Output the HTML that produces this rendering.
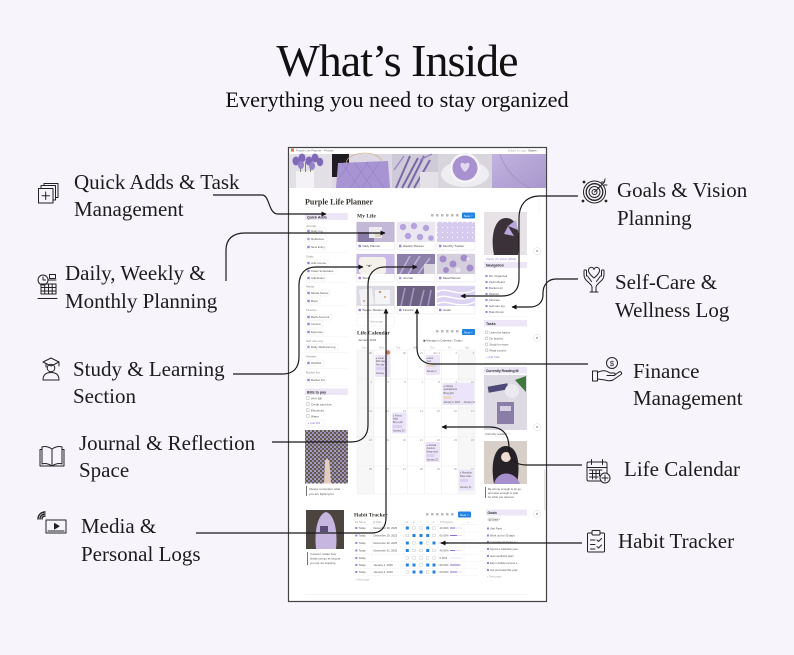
<!DOCTYPE html>
<html><head><meta charset="utf-8">
<style>
html,body{margin:0;padding:0;background:#f7f4fc;width:794px;height:655px;overflow:hidden;}
svg{display:block}
.sf{font-family:"Liberation Serif",serif;}
.ss{font-family:"Liberation Sans",sans-serif;}
</style></head><body>
<svg width="794" height="655" viewBox="0 0 794 655" xmlns="http://www.w3.org/2000/svg">
<defs>
<marker id="ar" viewBox="0 0 10 10" refX="9" refY="5" markerWidth="4.2" markerHeight="4.2" orient="auto"><path d="M0,0 L10,5 L0,10 z" fill="#111"/></marker>
<pattern id="fl" width="4" height="4" patternUnits="userSpaceOnUse"><rect width="4" height="4" fill="#5f5c4c"/><circle cx="1" cy="1" r="1.05" fill="#a993d6"/><circle cx="3" cy="3" r="0.95" fill="#c4b4e8"/></pattern>
<pattern id="dt" width="5" height="5" patternUnits="userSpaceOnUse"><rect width="5" height="5" fill="#d6caef"/><circle cx="2.5" cy="2.5" r="0.6" fill="#fff"/></pattern>
<linearGradient id="sw" x1="0" y1="0" x2="1" y2="1"><stop offset="0" stop-color="#c2b3e0"/><stop offset="1" stop-color="#a897cc"/></linearGradient>
</defs>
<rect width="794" height="655" fill="#f7f4fc"/>

<!-- Titles -->
<text class="sf" x="397" y="76" font-size="46" text-anchor="middle" letter-spacing="-1" fill="#111">What’s Inside</text>
<text class="sf" x="397" y="107" font-size="22.3" text-anchor="middle" fill="#111">Everything you need to stay organized</text>

<!-- Screenshot frame -->
<rect x="288.5" y="147.5" width="258" height="454" fill="#ffffff" stroke="#444" stroke-width="1.2"/>

<!-- top bar -->
<g class="ss">
<rect x="291" y="148.6" width="3" height="3" fill="#d9773c"/>
<text x="296" y="151.6" font-size="3" fill="#777">Purple Life Planner  ·  Private</text>
<text x="508" y="151.6" font-size="2.8" fill="#aaa">Edited 1m ago</text>
<text x="528" y="151.6" font-size="3" fill="#555">Share</text>
<text x="536" y="151.6" font-size="3" fill="#777">☆ ···</text>
</g>

<!-- cover photos -->
<rect x="289" y="154" width="43" height="34" fill="#e2dfe6"/>
<rect x="296" y="171" width="18" height="17" fill="#f4f2f5"/>
<g fill="#5f7a4e"><rect x="300" y="163" width="0.8" height="9"/><rect x="305" y="162" width="0.8" height="10"/><rect x="310" y="163" width="0.8" height="9"/></g>
<g fill="#7f69b8"><ellipse cx="296" cy="161" rx="3.5" ry="4.5"/><ellipse cx="302" cy="158" rx="3.5" ry="4.5"/><ellipse cx="309" cy="161" rx="3.5" ry="4.5"/><ellipse cx="315" cy="158" rx="3.5" ry="4.5"/><ellipse cx="320" cy="162" rx="3.2" ry="4.2"/><ellipse cx="301" cy="165" rx="3" ry="4" fill="#9683c9"/><ellipse cx="312" cy="166" rx="3" ry="4" fill="#9683c9"/></g>

<rect x="332" y="154" width="60" height="34" fill="#ddd8e4"/>
<rect x="332" y="154" width="17" height="23" fill="#1e1b21"/>
<path d="M338,163 L388,161 L390,188 L336,188 Z" fill="#a894d2"/>
<g stroke="#9280c2" stroke-width="0.6"><path d="M342,163 L360,188 M354,162.5 L372,188 M366,162 L384,188 M350,188 L368,162 M362,188 L380,161.5 M338,180 L350,162.6"/></g>
<path d="M346,163 C348,150 380,150 382,162" fill="none" stroke="#c9b68c" stroke-width="0.8"/>

<rect x="392" y="154" width="46" height="34" fill="#cfcad8"/>
<g stroke="#7a67a6" stroke-width="2"><path d="M396,188 L410,156 M402,188 L418,158 M408,188 L424,156 M414,188 L430,160"/></g>
<rect x="420" y="172" width="18" height="16" fill="#e4e1e8"/>
<g stroke="#9b89c4" stroke-width="1.4"><path d="M394,170 L404,156 M420,160 L432,154"/></g>

<rect x="438" y="154" width="54" height="34" fill="#d8d5dd"/>
<ellipse cx="465" cy="174" rx="24" ry="13" fill="#eeedf1"/>
<circle cx="465" cy="168" r="15" fill="#f5f4f7"/>
<circle cx="465" cy="168" r="12.5" fill="#a792cf"/>
<path d="M465,172 C458,166 460,160 465,164 C470,160 472,166 465,172 Z" fill="#e2d8f0"/>

<rect x="492" y="154" width="54" height="34" fill="url(#sw)"/>
<path d="M500,154 C505,170 515,180 530,188" fill="none" stroke="#a493c8" stroke-width="1"/>

<!-- page title -->
<text class="sf" x="305" y="204.5" font-size="8" font-weight="bold" fill="#37352f">Purple Life Planner</text>

<!-- left column -->
<g class="ss" font-size="3" fill="#555">
<rect x="305" y="213" width="43" height="7" fill="#ece6f6"/>
<text x="307" y="218.3" font-size="3.6" font-weight="bold" fill="#333">Quick Adds</text>

<text x="306" y="227" fill="#888">Journal</text>
<g><rect x="306" y="228" width="20" height="6" rx="1" fill="#fff" stroke="#e3e3e3" stroke-width="0.4"/><rect x="307.3" y="229.8" width="2.4" height="2.4" fill="#9b7fd0"/><text x="311" y="232.2">Daily log</text></g>
<g><rect x="306" y="236" width="21" height="6" rx="1" fill="#fff" stroke="#e3e3e3" stroke-width="0.4"/><rect x="307.3" y="237.8" width="2.4" height="2.4" fill="#b79be0"/><text x="311" y="240.2">Reflection</text></g>
<g><rect x="306" y="244" width="20" height="6" rx="1" fill="#fff" stroke="#e3e3e3" stroke-width="0.4"/><rect x="307.3" y="245.8" width="2.4" height="2.4" fill="#9b7fd0"/><text x="311" y="248.2">New Entry</text></g>
<rect x="305" y="252" width="43" height="0.4" fill="#eee"/>

<text x="306" y="257.5" fill="#888">Study</text>
<g><rect x="306" y="260" width="22" height="6" rx="1" fill="#fff" stroke="#e3e3e3" stroke-width="0.4"/><rect x="307.3" y="261.8" width="2.4" height="2.4" fill="#9b7fd0"/><text x="311" y="264.2">Add course</text></g>
<g><rect x="306" y="268" width="30" height="6" rx="1" fill="#fff" stroke="#e3e3e3" stroke-width="0.4"/><rect x="307.3" y="269.8" width="2.4" height="2.4" fill="#9b7fd0"/><text x="311" y="272.2">Class Schedules</text></g>
<g><rect x="306" y="275" width="20" height="6" rx="1" fill="#fff" stroke="#e3e3e3" stroke-width="0.4"/><rect x="307.3" y="276.8" width="2.4" height="2.4" fill="#9b7fd0"/><text x="311" y="279.2">Add Exam</text></g>
<rect x="305" y="282.5" width="43" height="0.4" fill="#eee"/>

<text x="306" y="287.5" fill="#888">Media</text>
<g><rect x="306" y="290" width="24" height="6" rx="1" fill="#fff" stroke="#e3e3e3" stroke-width="0.4"/><rect x="307.3" y="291.8" width="2.4" height="2.4" fill="#9b7fd0"/><text x="311" y="294.2">Media Series</text></g>
<g><rect x="306" y="298" width="14" height="6" rx="1" fill="#fff" stroke="#e3e3e3" stroke-width="0.4"/><rect x="307.3" y="299.8" width="2.4" height="2.4" fill="#9b7fd0"/><text x="311" y="302.2">Book</text></g>
<rect x="305" y="305.5" width="43" height="0.4" fill="#eee"/>

<text x="306" y="310.8" fill="#888">Finance</text>
<g><rect x="306" y="314" width="26" height="6" rx="1" fill="#fff" stroke="#e3e3e3" stroke-width="0.4"/><rect x="307.3" y="315.8" width="2.4" height="2.4" fill="#9b7fd0"/><text x="311" y="318.2">Bank Account</text></g>
<g><rect x="306" y="321" width="17" height="6" rx="1" fill="#fff" stroke="#e3e3e3" stroke-width="0.4"/><rect x="307.3" y="322.8" width="2.4" height="2.4" fill="#9b7fd0"/><text x="311" y="325.2">Income</text></g>
<g><rect x="306" y="329" width="18" height="6" rx="1" fill="#fff" stroke="#e3e3e3" stroke-width="0.4"/><rect x="307.3" y="330.8" width="2.4" height="2.4" fill="#9b7fd0"/><text x="311" y="333.2">Expense</text></g>
<rect x="305" y="336.5" width="43" height="0.4" fill="#eee"/>

<text x="306" y="341.8" fill="#888">Self care log</text>
<g><rect x="306" y="344" width="32" height="6" rx="1" fill="#fff" stroke="#e3e3e3" stroke-width="0.4"/><rect x="307.3" y="345.8" width="2.4" height="2.4" fill="#b79be0"/><text x="311" y="348.2">Daily Wellness log</text></g>
<rect x="305" y="352" width="43" height="0.4" fill="#eee"/>

<text x="306" y="357.5" fill="#888">Wishlist</text>
<g><rect x="306" y="360" width="18" height="6" rx="1" fill="#fff" stroke="#e3e3e3" stroke-width="0.4"/><rect x="307.3" y="361.8" width="2.4" height="2.4" fill="#9b7fd0"/><text x="311" y="364.2">Wishlist</text></g>
<rect x="305" y="368" width="43" height="0.4" fill="#eee"/>

<text x="306" y="373.5" fill="#888">Bucket list</text>
<g><rect x="306" y="377" width="20" height="6" rx="1" fill="#fff" stroke="#e3e3e3" stroke-width="0.4"/><rect x="307.3" y="378.8" width="2.4" height="2.4" fill="#9b7fd0"/><text x="311" y="381.2">Bucket list</text></g>
<rect x="305" y="385.5" width="43" height="0.4" fill="#eee"/>

<rect x="305" y="388.5" width="43" height="6.5" fill="#ece6f6"/>
<text x="307" y="393.5" font-size="3.6" font-weight="bold" fill="#333">Bills to pay</text>
<g fill="none" stroke="#999" stroke-width="0.4"><rect x="306.5" y="396.8" width="2.6" height="2.6"/><rect x="306.5" y="402.8" width="2.6" height="2.6"/><rect x="306.5" y="408.8" width="2.6" height="2.6"/><rect x="306.5" y="414.8" width="2.6" height="2.6"/></g>
<text x="311" y="399.3">Wi-fi Bill</text>
<text x="311" y="405.3">Credit card due</text>
<text x="311" y="411.3">Electricity</text>
<text x="311" y="417.3">Water</text>
<rect x="306" y="420" width="18" height="6" rx="1" fill="#fff" stroke="#e3e3e3" stroke-width="0.4"/>
<text x="307.5" y="424.2" fill="#9b7fd0">+  Add Bill</text>
<rect x="305" y="427.5" width="43" height="0.4" fill="#eee"/>
</g>
<rect x="305" y="430" width="43" height="53.5" fill="url(#fl)"/>
<path d="M324,483.5 L325,462 C325,458 329,458 329.5,462 L331,483.5 Z" fill="#e3cbbd"/>
<rect x="306" y="486" width="0.8" height="10" fill="#555"/>
<g class="ss" font-size="3" fill="#555"><text x="309" y="490">Always remember what</text><text x="309" y="495">you are fighting for.</text></g>

<!-- My Life -->
<text class="sf" x="357" y="217.5" font-size="5.5" font-weight="bold" fill="#37352f">My Life</text>
<g fill="#bbb"><rect x="431" y="214" width="2.5" height="2.5"/><rect x="436" y="214" width="2.5" height="2.5"/><rect x="441" y="214" width="2.5" height="2.5"/><rect x="446" y="214" width="2.5" height="2.5"/><rect x="451" y="214" width="2.5" height="2.5"/><rect x="456" y="214" width="2.5" height="2.5"/></g>
<rect x="462" y="212.5" width="13" height="6" rx="1" fill="#2383e2"/>
<text class="ss" x="464" y="216.8" font-size="3" fill="#fff">New  ˅</text>

<!-- cards -->
<g stroke="#e3e3e3" stroke-width="0.5" fill="#fff">
<rect x="356.5" y="222" width="38" height="28" rx="1"/><rect x="397" y="222" width="38" height="28" rx="1"/><rect x="437" y="222" width="38" height="28" rx="1"/>
<rect x="356.5" y="254" width="38" height="28" rx="1"/><rect x="397" y="254" width="38" height="28" rx="1"/><rect x="437" y="254" width="38" height="28" rx="1"/>
<rect x="356.5" y="286" width="38" height="28" rx="1"/><rect x="397" y="286" width="38" height="28" rx="1"/><rect x="437" y="286" width="38" height="28" rx="1"/>
</g>
<!-- r1 -->
<rect x="356.5" y="222" width="38" height="20" fill="#c3b8d6"/>
<rect x="358" y="232" width="16" height="10" fill="#8a7ba6"/>
<rect x="369" y="227" width="13" height="11" fill="#ecebef"/>
<rect x="375" y="233" width="6" height="4" fill="#e2d6c0"/>
<rect x="397" y="222" width="38" height="20" fill="#ebe7f0"/>
<g fill="#b7a2e0"><circle cx="403" cy="227" r="3.2"/><circle cx="414" cy="226" r="3.2"/><circle cx="426" cy="228" r="3.2"/><circle cx="408" cy="236" r="3.2"/><circle cx="420" cy="237" r="3.2"/><circle cx="431" cy="238" r="2.8"/></g>
<rect x="437" y="222" width="38" height="20" fill="url(#dt)"/>
<!-- r2 -->
<rect x="356.5" y="254" width="38" height="20" fill="#c9b9e6"/>
<rect x="359" y="257" width="27" height="17" rx="3" fill="#f4f1ea"/>
<text class="ss" x="366" y="267" font-size="4" fill="#333">^ᴥ^</text>
<rect x="397" y="254" width="38" height="20" fill="#8d80a8"/>
<g stroke="#c0b2dc" stroke-width="1.5"><path d="M400,274 L410,256 M408,274 L420,256 M418,274 L430,258"/></g>
<rect x="424" y="264" width="11" height="10" fill="#d9d5df"/>
<rect x="437" y="254" width="38" height="20" fill="#d4cedd"/>
<g fill="#a48ccc"><circle cx="443" cy="259" r="3.5"/><circle cx="453" cy="264" r="3.5"/><circle cx="464" cy="258" r="3.5"/><circle cx="470" cy="268" r="3.5"/><circle cx="446" cy="270" r="3"/></g>
<g fill="#ece7f2"><circle cx="458" cy="270" r="2.5"/><circle cx="468" cy="259" r="1.5"/></g>
<!-- r3 -->
<rect x="356.5" y="286" width="38" height="20" fill="#dedae4"/>
<rect x="360" y="289" width="13" height="16" fill="#f2f1f4" transform="rotate(-8 366 297)"/>
<rect x="375" y="290" width="15" height="14" fill="#f4f3f6"/>
<g fill="#c9a37d"><circle cx="380" cy="292" r="1.3"/><circle cx="385" cy="297" r="1"/><circle cx="364" cy="301" r="1"/></g>
<rect x="397" y="286" width="38" height="20" fill="#6e6283"/>
<g stroke="#a696c6" stroke-width="1.6"><path d="M401,306 L405,288 M410,306 L414,288 M420,306 L424,290 M428,306 L431,290"/></g>
<rect x="437" y="286" width="38" height="20" fill="#dcd2f2"/>
<g fill="none" stroke="#fff" stroke-width="1.4"><path d="M437,292 C447,286 457,298 475,290 M437,298 C447,292 457,304 475,296 M437,304 C447,298 457,310 475,302"/></g>
<!-- captions -->
<g class="ss" font-size="3" fill="#444">
<rect x="358.5" y="244.8" width="2.4" height="2.4" fill="#9b7fd0"/><text x="362.5" y="247.2">Daily Planner</text>
<rect x="399" y="244.8" width="2.4" height="2.4" fill="#9b7fd0"/><text x="403" y="247.2">Weekly Planner</text>
<rect x="439" y="244.8" width="2.4" height="2.4" fill="#9b7fd0"/><text x="443" y="247.2">Monthly Tracker</text>
<rect x="358.5" y="276.8" width="2.4" height="2.4" fill="#9b7fd0"/><text x="362.5" y="279.2">Study</text>
<rect x="399" y="276.8" width="2.4" height="2.4" fill="#b79be0"/><text x="403" y="279.2">Journal</text>
<rect x="439" y="276.8" width="2.4" height="2.4" fill="#9b7fd0"/><text x="443" y="279.2">Meal Planner</text>
<rect x="358.5" y="308.8" width="2.4" height="2.4" fill="#9b7fd0"/><text x="362.5" y="311.2">Books / Books Li</text>
<rect x="399" y="308.8" width="2.4" height="2.4" fill="#9b7fd0"/><text x="403" y="311.2">Finance</text>
<rect x="439" y="308.8" width="2.4" height="2.4" fill="#9b7fd0"/><text x="443" y="311.2">Goals</text>
</g>
<rect x="357" y="317" width="37.5" height="9" rx="1" fill="none" stroke="#eee" stroke-width="0.5"/>
<text class="ss" x="367" y="322.5" font-size="3" fill="#aaa">+ New page</text>

<!-- Life Calendar -->
<text class="sf" x="357" y="334.5" font-size="5.5" font-weight="bold" fill="#37352f">Life Calendar</text>
<text class="ss" x="358" y="341" font-size="3" fill="#555">January 2024</text>
<g fill="#bbb"><rect x="436" y="330" width="2.5" height="2.5"/><rect x="441" y="330" width="2.5" height="2.5"/><rect x="446" y="330" width="2.5" height="2.5"/><rect x="451" y="330" width="2.5" height="2.5"/><rect x="456" y="330" width="2.5" height="2.5"/></g>
<rect x="462" y="329" width="13" height="6" rx="1" fill="#2383e2"/>
<text class="ss" x="464" y="333.3" font-size="3" fill="#fff">New  ˅</text>
<text class="ss" x="423" y="341.5" font-size="2.8" fill="#555">▣ Manage in Calendar   ‹  Today  ›</text>
<g class="ss" font-size="2.6" fill="#aaa"><text x="362" y="348.5">Sun</text><text x="379" y="348.5">Mon</text><text x="396" y="348.5">Tue</text><text x="413" y="348.5">Wed</text><text x="430" y="348.5">Thu</text><text x="448" y="348.5">Fri</text><text x="465" y="348.5">Sat</text></g>
<rect x="357" y="350" width="16.9" height="144" fill="#f7f7f7"/>
<rect x="458.1" y="350" width="16.9" height="144" fill="#f7f7f7"/>
<g stroke="#e9e9e9" stroke-width="0.5">
<path d="M357,350 H475 M357,379 H475 M357,408 H475 M357,437 H475 M357,466 H475 M357,494 H475"/>
<path d="M357,350 V494 M373.9,350 V494 M390.7,350 V494 M407.6,350 V494 M424.4,350 V494 M441.3,350 V494 M458.1,350 V494 M475,350 V494"/>
</g>
<g class="ss" font-size="2.8" fill="#999" text-anchor="end">
<text x="372" y="354">28</text><text x="389" y="354">29</text><text x="406" y="354">30</text><text x="423" y="354">31</text><text x="440" y="354">Jan 1</text><text x="457" y="354">2</text><text x="474" y="354">3</text>
<text x="372" y="383">4</text><text x="389" y="383">5</text><text x="406" y="383">6</text><text x="423" y="383">7</text><text x="440" y="383">8</text><text x="457" y="383">9</text><text x="474" y="383">10</text>
<text x="372" y="412">11</text><text x="389" y="412">12</text><text x="406" y="412">13</text><text x="423" y="412">14</text><text x="440" y="412">15</text><text x="457" y="412">16</text><text x="474" y="412">17</text>
<text x="372" y="441">18</text><text x="389" y="441">19</text><text x="406" y="441">20</text><text x="423" y="441">21</text><text x="440" y="441">22</text><text x="457" y="441">23</text><text x="474" y="441">24</text>
<text x="372" y="470">25</text><text x="389" y="470">26</text><text x="406" y="470">27</text><text x="423" y="470">28</text><text x="440" y="470">29</text><text x="457" y="470">30</text><text x="474" y="470">31</text>
</g>
<circle cx="388" cy="352.5" r="2.2" fill="#d07a5a"/>
<g fill="#ece4f8">
<rect x="375" y="355" width="15" height="22" rx="1"/>
<rect x="425.5" y="355" width="14.5" height="20" rx="1"/>
<rect x="442.5" y="383" width="31.5" height="22" rx="1"/>
<rect x="392" y="412.5" width="14.5" height="21" rx="1"/>
<rect x="425.5" y="442" width="14.5" height="20" rx="1"/>
<rect x="459" y="469.5" width="15" height="21" rx="1"/>
</g>
<g class="ss" font-size="2.3" fill="#555">
<text x="376" y="359">● Lunar</text><text x="376" y="362">ESC day</text><text x="376" y="365.5">Fav day</text><rect x="376" y="367" width="9" height="3" fill="#dcd0ee"/><text x="376" y="374">January</text>
<text x="426.5" y="359">● New</text><text x="426.5" y="362">Year</text><rect x="426.5" y="364" width="9" height="3" fill="#e6d6c8"/><text x="426.5" y="372">January 1</text>
<text x="443.5" y="387">● Visiting</text><text x="443.5" y="390">grandparents</text><text x="443.5" y="394">Bring gifts</text><rect x="443.5" y="396" width="8" height="3" fill="#eadbc9"/><text x="443.5" y="403">January 9, 2024 → January 11</text>
<text x="393" y="416.5">● Friend</text><text x="393" y="419.5">bday</text><text x="393" y="423">Buy a gift</text><rect x="393" y="425" width="9" height="3" fill="#dcd0ee"/><text x="393" y="431.5">January 13</text>
<text x="426.5" y="446">● Journal</text><text x="426.5" y="449">check-in</text><text x="426.5" y="452.5">Bring notes</text><rect x="426.5" y="454" width="8" height="3" fill="#dcd0ee"/><text x="426.5" y="460.5">January 22</text>
<text x="460" y="473.5">● Reminder</text><text x="460" y="477">Pass notes</text><rect x="460" y="479" width="8" height="3" fill="#dcd0ee"/><text x="460" y="488">January 31</text>
</g>

<!-- right column -->
<rect x="484" y="212" width="43" height="43" fill="#e6e2e6"/>
<path d="M494,255 C490,235 495,218 506,218 C517,218 521,232 518,255 Z" fill="#3a3238"/>
<path d="M508,226 L516,220 L518,230 Z M508,226 L514,236 L504,234 Z" fill="#b9a6dc"/>
<g class="ss" font-size="2.8">
<text x="486" y="260" fill="#9b7fd0">Poetry | D. Poem (2024)</text>
<rect x="484" y="262" width="43" height="6" fill="#ece6f6"/>
<text x="486" y="266.5" font-size="3.5" font-weight="bold" fill="#333">Navigation</text>
<g fill="#555">
<text x="489" y="277">Ms. Organized</text><text x="489" y="283">Vision Board</text><text x="489" y="289">Bucket List</text><text x="489" y="295">Wishlist</text><text x="489" y="301">Skincare</text><text x="489" y="307">Self care log</text><text x="489" y="313">Brain Dump</text>
</g>
<g fill="#9b7fd0"><rect x="485.5" y="275" width="2" height="2"/><rect x="485.5" y="281" width="2" height="2"/><rect x="485.5" y="287" width="2" height="2"/><rect x="485.5" y="293" width="2" height="2"/><rect x="485.5" y="299" width="2" height="2"/><rect x="485.5" y="305" width="2" height="2"/><rect x="485.5" y="311" width="2" height="2"/></g>
<rect x="484" y="316" width="43" height="0.4" fill="#eee"/>
<rect x="484" y="320" width="43" height="6.5" fill="#ece6f6"/>
<text x="486" y="324.8" font-size="3.5" font-weight="bold" fill="#333">Tasks</text>
<g fill="none" stroke="#999" stroke-width="0.4"><rect x="485.5" y="331" width="2.4" height="2.4"/><rect x="485.5" y="337" width="2.4" height="2.4"/><rect x="485.5" y="343" width="2.4" height="2.4"/><rect x="485.5" y="349" width="2.4" height="2.4"/></g>
<g fill="#555"><text x="489.5" y="333.5">Learn the basics</text><text x="489.5" y="339.5">Do laundry</text><text x="489.5" y="345.5">Study for exam</text><text x="489.5" y="351.5">Read a poem</text></g>
<text x="486" y="358" fill="#9b7fd0">+  Add Task</text>
<rect x="484" y="362" width="43" height="0.4" fill="#eee"/>
<rect x="484" y="367" width="43" height="6.5" fill="#ece6f6"/>
<text x="486" y="371.8" font-size="3.3" font-weight="bold" fill="#333">Currently Reading ✉</text>
</g>
<rect x="484" y="375" width="43" height="55" fill="#dedae4"/>
<rect x="488" y="385" width="20" height="6" fill="#4d4a78" transform="rotate(-10 498 388)"/>
<circle cx="512" cy="391" r="7" fill="#ece9f0"/>
<path d="M515,380 L526,376 L526,392 Z" fill="#3e7a3a"/>
<rect x="497" y="402" width="17" height="22" fill="#8a7ea8"/>
<rect x="500" y="406" width="11" height="5" fill="#d6d0e2"/>
<text class="ss" x="485" y="435" font-size="2.8" fill="#555">Currently reading: ♡</text>
<rect x="484" y="441" width="43" height="43" fill="#d9cfc9"/>
<path d="M494,484 C490,462 495,446 506,446 C517,446 521,462 517,484 Z" fill="#272228"/>
<circle cx="506" cy="457" r="5" fill="#f0dcd2"/>
<path d="M494,484 C497,470 515,470 520,484 Z" fill="#a58fcc"/>
<rect x="485" y="487" width="0.8" height="11" fill="#555"/>
<g class="ss" font-size="2.8" fill="#555"><text x="488" y="490">Be strong enough to let go,</text><text x="488" y="494">and wise enough to wait</text><text x="488" y="498">for what you deserve.</text></g>

<!-- Habit Tracker -->
<rect x="306" y="510" width="38" height="39" fill="#4b443f"/>
<path d="M316,549 C314,530 318,514 326,512 C334,514 338,530 336,549 Z" fill="#c6b6e0"/>
<rect x="320" y="526" width="8" height="6" fill="#5b4c7a"/>
<rect x="307" y="552" width="0.8" height="13" fill="#555"/>
<g class="ss" font-size="2.8" fill="#555"><text x="310" y="555">It doesn't matter how</text><text x="310" y="559.5">slowly you go as long as</text><text x="310" y="564">you are not stopping.</text></g>

<text class="sf" x="354" y="516.5" font-size="5.5" font-weight="bold" fill="#37352f">Habit Tracker</text>
<g fill="#bbb"><rect x="426" y="513" width="2.5" height="2.5"/><rect x="431" y="513" width="2.5" height="2.5"/><rect x="436" y="513" width="2.5" height="2.5"/><rect x="441" y="513" width="2.5" height="2.5"/><rect x="446" y="513" width="2.5" height="2.5"/><rect x="451" y="513" width="2.5" height="2.5"/></g>
<rect x="458" y="511.5" width="13" height="6" rx="1" fill="#2383e2"/>
<text class="ss" x="460" y="515.8" font-size="3" fill="#fff">New  ˅</text>
<g class="ss" font-size="2.6" fill="#999">
<text x="355" y="523">Aa Name</text><text x="373" y="523">▤ Date</text><text x="405.5" y="523">⋈</text><text x="412.5" y="523">◎</text><text x="420" y="523">♀</text><text x="426" y="523">☼</text><text x="432.5" y="523">✐</text><text x="440" y="523">Σ Progress</text><text x="467" y="523">+  ···</text>
</g>
<g stroke="#efefef" stroke-width="0.4"><path d="M354,524.5 H478 M354,532 H478 M354,539.5 H478 M354,547 H478 M354,554.5 H478 M354,561.5 H478 M354,568.5 H478 M354,575.5 H478"/>
<path d="M372,519 V575.5 M404,519 V575.5 M438,519 V575.5 M464,519 V575.5"/></g>
<g class="ss" font-size="2.7" fill="#555">
<text x="358.5" y="529.2">Today</text><text x="358.5" y="536.7">Today</text><text x="358.5" y="544.2">Today</text><text x="358.5" y="551.7">Today</text><text x="358.5" y="559.2">Today</text><text x="358.5" y="566.2">Today</text><text x="358.5" y="573.2">Today</text>
<text x="373.5" y="529.2">December 28, 2025</text><text x="373.5" y="536.7">December 29, 2025</text><text x="373.5" y="544.2">December 30, 2025</text><text x="373.5" y="551.7">December 31, 2025</text><text x="373.5" y="566.2">January 1, 2026</text><text x="373.5" y="573.2">January 2, 2026</text>
<text x="439.5" y="529.2">40.00%</text><text x="439.5" y="536.7">60.00%</text><text x="439.5" y="544.2">60.00%</text><text x="439.5" y="551.7">40.00%</text><text x="439.5" y="559.2">0.00%</text><text x="439.5" y="566.2">80.00%</text><text x="439.5" y="573.2">60.00%</text>
</g>
<g fill="#9b7fd0"><rect x="355.3" y="527" width="2" height="2"/><rect x="355.3" y="534.5" width="2" height="2"/><rect x="355.3" y="542" width="2" height="2"/><rect x="355.3" y="549.5" width="2" height="2"/><rect x="355.3" y="557" width="2" height="2"/><rect x="355.3" y="564" width="2" height="2"/><rect x="355.3" y="571" width="2" height="2"/></g>
<g fill="#e6e0f0"><rect x="450" y="527.5" width="12" height="1"/><rect x="450" y="535" width="12" height="1"/><rect x="450" y="542.5" width="12" height="1"/><rect x="450" y="550" width="12" height="1"/><rect x="450" y="557.5" width="12" height="1"/><rect x="450" y="564.5" width="12" height="1"/><rect x="450" y="571.5" width="12" height="1"/></g>
<g fill="#8f6fd0"><rect x="450" y="527.5" width="5" height="1"/><rect x="450" y="535" width="7" height="1"/><rect x="450" y="542.5" width="7" height="1"/><rect x="450" y="550" width="5" height="1"/><rect x="450" y="564.5" width="10" height="1"/><rect x="450" y="571.5" width="7" height="1"/></g>
<!-- checkboxes -->
<g fill="#2383e2">
<rect x="405.8" y="526.5" width="3" height="3"/><rect x="426.2" y="526.5" width="3" height="3"/>
<rect x="412.5" y="534" width="3" height="3"/><rect x="419.5" y="534" width="3" height="3"/><rect x="426.2" y="534" width="3" height="3"/>
<rect x="405.8" y="541.5" width="3" height="3"/><rect x="419.5" y="541.5" width="3" height="3"/><rect x="432.5" y="541.5" width="3" height="3"/>
<rect x="405.8" y="549" width="3" height="3"/><rect x="426.2" y="549" width="3" height="3"/>
<rect x="405.8" y="563.5" width="3" height="3"/><rect x="412.5" y="563.5" width="3" height="3"/><rect x="426.2" y="563.5" width="3" height="3"/><rect x="432.5" y="563.5" width="3" height="3"/>
<rect x="412.5" y="570.5" width="3" height="3"/><rect x="419.5" y="570.5" width="3" height="3"/><rect x="432.5" y="570.5" width="3" height="3"/>
</g>
<g fill="#fff" stroke="#bbb" stroke-width="0.4">
<rect x="412.7" y="526.7" width="2.6" height="2.6"/><rect x="419.7" y="526.7" width="2.6" height="2.6"/><rect x="432.7" y="526.7" width="2.6" height="2.6"/>
<rect x="406" y="534.2" width="2.6" height="2.6"/><rect x="432.7" y="534.2" width="2.6" height="2.6"/>
<rect x="412.7" y="541.7" width="2.6" height="2.6"/><rect x="426.4" y="541.7" width="2.6" height="2.6"/>
<rect x="412.7" y="549.2" width="2.6" height="2.6"/><rect x="419.7" y="549.2" width="2.6" height="2.6"/><rect x="432.7" y="549.2" width="2.6" height="2.6"/>
<rect x="406" y="556.7" width="2.6" height="2.6"/><rect x="412.7" y="556.7" width="2.6" height="2.6"/><rect x="419.7" y="556.7" width="2.6" height="2.6"/><rect x="426.4" y="556.7" width="2.6" height="2.6"/><rect x="432.7" y="556.7" width="2.6" height="2.6"/>
<rect x="419.7" y="563.7" width="2.6" height="2.6"/>
<rect x="406" y="570.7" width="2.6" height="2.6"/><rect x="426.4" y="570.7" width="2.6" height="2.6"/>
</g>
<text class="ss" x="355" y="580.5" font-size="2.7" fill="#aaa">+  New page</text>

<!-- Goals -->
<g class="ss" font-size="2.7" fill="#555">
<rect x="486" y="509.5" width="41" height="6" fill="#ece6f6"/>
<text x="487.5" y="514" font-size="3.4" font-weight="bold" fill="#333">Goals</text>
<rect x="487" y="517.5" width="12" height="4" rx="2" fill="#eee"/>
<text x="488.5" y="520.5" font-size="2.5">▤ Goals ˅</text>
<text x="490" y="529.5">Visit Paris</text><text x="490" y="536.5">Work out for 30 days</text><text x="490" y="543">Complete 20 books to r...</text><text x="490" y="550">Spend a Calendar year</text><text x="490" y="557">Gain aesthetic plant</text><text x="490" y="564">Earn multiple income s...</text><text x="490" y="571">Get promoted this year</text>
<text x="487" y="577.5" fill="#aaa">+  New page</text>
</g>
<g fill="#9b7fd0"><rect x="487" y="527.5" width="2" height="2"/><rect x="487" y="534.5" width="2" height="2"/><rect x="487" y="541" width="2" height="2"/><rect x="487" y="548" width="2" height="2"/><rect x="487" y="555" width="2" height="2"/><rect x="487" y="562" width="2" height="2"/><rect x="487" y="569" width="2" height="2"/></g>

<rect x="305" y="594" width="222" height="0.5" fill="#e8e8e8"/>

<!-- side buttons -->
<g fill="#fff" stroke="#ddd" stroke-width="0.5"><circle cx="537" cy="251" r="3.5"/><circle cx="537" cy="338" r="3.5"/><circle cx="537" cy="427" r="3.5"/><circle cx="537" cy="514" r="3.5"/></g>
<g class="ss" font-size="3" fill="#555" text-anchor="middle"><text x="537" y="252">⇵</text><text x="537" y="339">⇵</text><text x="537" y="428">⇵</text><text x="537" y="515">⇵</text></g>
<path d="M539,199 V214" stroke="#ddd" stroke-width="0.6" stroke-dasharray="1 1.5"/>
<rect x="544.5" y="470" width="0.6" height="40" fill="#ccc"/>

<!-- connectors -->
<g fill="none" stroke="#1a1a1a" stroke-width="1.2">
<path d="M213,195 H262 C270,195 268,214 278,214 H326" marker-end="url(#ar)"/>
<path d="M226,281 V250 C226,239 233,233 245,233 H385" marker-end="url(#ar)"/>
<path d="M233,374 H283 C293,374 299,368 299,357 V285 C299,274 305,267 316,267 H363" marker-end="url(#ar)"/>
<path d="M272,442 H351 C362,442 368,436 368,425 V285 C368,274 374,267 385,267 H417" marker-end="url(#ar)"/>
<path d="M196,533 H372 C381,533 386,527 386,518 V309" marker-end="url(#ar)"/>
<path d="M588,364 H433 C423,364 417,358 417,348 V309" marker-end="url(#ar)"/>
<path d="M578,196 H540 C526,196 519,205 519,218 V279 C519,290 513,296 502,296 H461" marker-end="url(#ar)"/>
<path d="M578,279 H556 C548,279 543,285 543,293 V295 C543,302 538,307 530,307 H512" marker-end="url(#ar)"/>
<path d="M582,465 H526 C515,465 509,458 509,448 C509,435 503,427 490,427 H442" marker-end="url(#ar)"/>
<path d="M582,543 H441" marker-end="url(#ar)"/>
</g>

<!-- labels -->
<g class="sf" font-size="21" fill="#1c1c1c">
<text x="74" y="189">Quick Adds &amp; Task</text><text x="74" y="216">Management</text>
<text x="65" y="280">Daily, Weekly &amp;</text><text x="65" y="308">Monthly Planning</text>
<text x="73" y="376">Study &amp; Learning</text><text x="73" y="403">Section</text>
<text x="79" y="450">Journal &amp; Reflection</text><text x="79" y="477">Space</text>
<text x="81" y="533">Media &amp;</text><text x="81" y="561">Personal Logs</text>
<text x="617" y="197">Goals &amp; Vision</text><text x="617" y="225">Planning</text>
<text x="615" y="289">Self-Care &amp;</text><text x="615" y="317">Wellness Log</text>
<text x="633" y="378">Finance</text><text x="633" y="405">Management</text>
<text x="624" y="476">Life Calendar</text>
<text x="618" y="548">Habit Tracker</text>
</g>

<!-- icons -->
<g fill="none" stroke="#222" stroke-width="1" stroke-linejoin="round" stroke-linecap="round">
<!-- quick adds -->
<path d="M44,185 V183.5 H58 V197.5 H56"/>
<path d="M41,188 V185.5 H55.5 V200 H53"/>
<rect x="38.5" y="188.5" width="14.5" height="14.5" fill="#f7f4fc"/>
<path d="M45.7,192 V199.5 M42,195.7 H49.5"/>
<!-- daily weekly -->
<circle cx="43" cy="280" r="5"/>
<path d="M43,277 V280 H45.5"/>
<rect x="49.5" y="274.5" width="6" height="4"/>
<path d="M48,280 H56"/>
<rect x="41" y="284" width="15" height="10"/>
<path d="M41,287.5 H56 M41,291 H56 M44.7,284 V294 M48.5,284 V294 M52.2,284 V294"/>
<path d="M38,298.5 H57"/>
<!-- study -->
<path d="M43,362 L51,358 L59,362 L51,366 Z"/>
<path d="M46,364 V367 M59,362 V366"/>
<circle cx="51" cy="368" r="3.8"/>
<path d="M43,380 C43,374 47,372.5 51,372.5 C55,372.5 59,374 59,380 Z"/>
<!-- journal -->
<path d="M52,449 C48,446.5 45,446 42,447 V464 C45,463 48,463.5 52,466 C56,463.5 59,463 62,464 V447 C59,446 56,446.5 52,449 Z M52,449 V466"/>
<path d="M42,449.5 H40 V466 H64 V449.5 H62"/>
<!-- media -->
<path d="M42,519 A3,3 0 0 1 45,516 M40,519 A5,5 0 0 1 45,514 M38,519 A7,7 0 0 1 45,512" stroke-width="1.4"/>
<rect x="46" y="520" width="20" height="13"/>
<path d="M48,531 H64"/>
<path d="M54.5,523.5 L59,526.2 L54.5,529 Z" fill="#222"/>
<!-- goals -->
<circle cx="594.5" cy="192" r="11"/>
<circle cx="594.5" cy="192" r="8.3" stroke-width="1.3"/>
<circle cx="594.5" cy="192" r="5.5"/>
<circle cx="594.5" cy="192" r="2.5"/>
<path d="M594.5,192 L604,182.5 M601.5,182 L604.5,182 L605,179 M604,185 L607,185" />
<circle cx="584" cy="182" r="0.9" fill="#222"/><circle cx="606" cy="201" r="0.9" fill="#222"/><circle cx="583" cy="201" r="0.9" fill="#222"/>
<!-- self care -->
<path d="M594,278 C589,274 587,270 589.5,268 C591.5,266.5 593.5,267.5 594,269.5 C594.5,267.5 596.5,266.5 598.5,268 C601,270 599,274 594,278 Z"/>
<path d="M592,292 V287 C592,285 589,283 586,280 C584.5,278.5 584,276 584,274 V271 C584,269.5 586.5,269.5 586.5,271 V276"/>
<path d="M596,292 V287 C596,285 599,283 602,280 C603.5,278.5 604,276 604,274 V271 C604,269.5 601.5,269.5 601.5,271 V276"/>
<path d="M587.5,276 L591.5,281.5 M600.5,276 L596.5,281.5"/>
<path d="M590,292 H594 M594,292 H598"/>
<!-- finance -->
<circle cx="612" cy="363" r="5.5"/>
<text x="612" y="365.8" font-size="7.5" fill="#222" stroke="none" text-anchor="middle" class="ss">$</text>
<rect x="592.5" y="371" width="5" height="10"/>
<path d="M597.5,372.5 C602,370 606,370 610,373 H614 C615.5,373 615.5,375.5 614,375.5 H607 M607,375.5 H614 L619,372 C621,371 622.5,373 621,374.5 L613,380 C611,381 608,381 605,380 L597.5,379"/>
<!-- life calendar -->
<rect x="587" y="462" width="20" height="19" rx="1.5"/>
<path d="M587,467.5 H607"/>
<path d="M591.5,459.5 V464.5 M602.5,459.5 V464.5"/>
<path d="M589.5,470 H602 M589.5,473.5 H600 M589.5,477 H598 M592.5,470 V479 M596,470 V479 M599.5,470 V476"/>
<circle cx="605" cy="478" r="5" fill="#f7f4fc"/>
<path d="M605,475 V481 M602,478 H608"/>
<!-- habit -->
<rect x="587.5" y="533" width="17" height="19" rx="1"/>
<rect x="592" y="530.5" width="8" height="4.5" rx="1" fill="#f7f4fc"/>
<path d="M590.5,540 H595 M590.5,544.5 H595 M590.5,549 H595"/>
<path d="M597,540 L598.5,541.5 L601.5,538.5 M597,546.5 L598.5,548 L601.5,545"/>
</g>
</svg>
</body></html>
